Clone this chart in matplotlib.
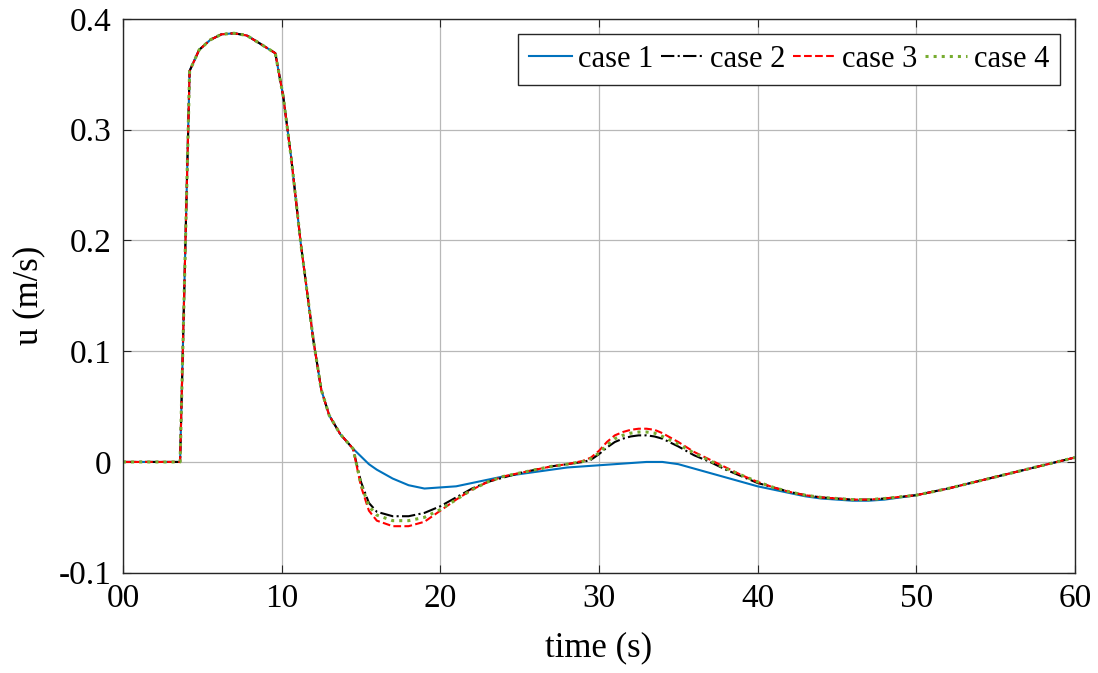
import matplotlib
matplotlib.use('Agg')
import matplotlib.pyplot as plt
import numpy as np

plt.rcParams['font.family'] = ['Liberation Serif', 'DejaVu Serif']

# shared rise / fall part (all four cases coincide here)
t_common = [0, 3.6, 4.2, 4.8, 5.5, 6.2, 7.0, 7.8, 8.6, 9.6, 10.1, 10.6, 11.2,
            12.0, 12.5, 13.0, 13.7, 14.5]
u_common = [0, 0, 0.353, 0.372, 0.381, 0.386, 0.387, 0.385, 0.378, 0.369,
            0.330, 0.275, 0.198, 0.110, 0.065, 0.042, 0.025, 0.012]

# after t = 14.5 s the cases split
t_tail = [15.0, 15.5, 16, 17, 18, 19, 20, 21, 22, 23, 24, 25, 26, 27, 28, 29,
          29.5, 30, 30.5, 31, 31.5, 32, 32.5, 33, 33.5, 34, 35, 36, 37, 38, 39,
          40, 41, 42, 43, 44, 45, 46, 47, 48, 50, 52, 54, 56, 58, 60]

case1 = [0.005, -0.002, -0.007, -0.015, -0.021, -0.024, -0.023, -0.022, -0.019,
         -0.016, -0.013, -0.011, -0.009, -0.007, -0.005, -0.004, -0.0035, -0.003,
         -0.0025, -0.002, -0.0015, -0.001, -0.0005, 0.0, 0.0, 0.0, -0.002, -0.006,
         -0.010, -0.014, -0.018, -0.022, -0.025, -0.028, -0.031, -0.033, -0.034,
         -0.035, -0.035, -0.034, -0.030, -0.024, -0.017, -0.010, -0.003, 0.004]

case2 = [-0.018, -0.037, -0.045, -0.049, -0.049, -0.046, -0.040, -0.032, -0.024,
         -0.018, -0.014, -0.010, -0.007, -0.004, -0.002, 0.0, 0.002, 0.007, 0.013,
         0.018, 0.021, 0.023, 0.024, 0.024, 0.023, 0.021, 0.014, 0.006, 0.000,
         -0.007, -0.013, -0.019, -0.023, -0.027, -0.030, -0.032, -0.033, -0.034,
         -0.034, -0.033, -0.030, -0.024, -0.017, -0.010, -0.003, 0.004]

case3 = [-0.022, -0.044, -0.053, -0.058, -0.058, -0.054, -0.044, -0.034, -0.025,
         -0.018, -0.013, -0.010, -0.007, -0.004, -0.002, 0.001, 0.004, 0.010, 0.018,
         0.024, 0.027, 0.029, 0.030, 0.030, 0.029, 0.026, 0.018, 0.009, 0.002,
         -0.005, -0.012, -0.018, -0.023, -0.027, -0.030, -0.032, -0.033, -0.034,
         -0.034, -0.033, -0.030, -0.024, -0.017, -0.010, -0.003, 0.004]

case4 = [-0.020, -0.040, -0.048, -0.053, -0.053, -0.050, -0.043, -0.034, -0.025,
         -0.018, -0.013, -0.010, -0.007, -0.004, -0.002, 0.0005, 0.003, 0.008, 0.015,
         0.021, 0.024, 0.026, 0.027, 0.027, 0.026, 0.023, 0.016, 0.008, 0.001,
         -0.006, -0.012, -0.018, -0.023, -0.027, -0.030, -0.032, -0.033, -0.034,
         -0.034, -0.033, -0.030, -0.024, -0.017, -0.010, -0.003, 0.004]

labels = ['case 1', 'case 2', 'case 3', 'case 4']
xticks = [0, 10, 20, 30, 40, 50, 60]
xticklabels = ['00', '10', '20', '30', '40', '50', '60']
yticks = [-0.1, 0, 0.1, 0.2, 0.3, 0.4]
yticklabels = ['-0.1', '0', '0.1', '0.2', '0.3', '0.4']

fig = plt.figure(figsize=(10.98, 6.73), dpi=100)
ax = fig.add_axes([0.112, 0.149, 0.867, 0.823])

t = np.array(t_common + t_tail)
styles = [dict(color='#0072BD', ls='-', lw=1.5),
          dict(color='black', ls='-.', lw=1.5),
          dict(color='#FF0000', ls='--', lw=1.5),
          dict(color='#77AC30', ls=':', lw=2.2)]
for data, lab, st in zip([case1, case2, case3, case4], labels, styles):
    ax.plot(t, u_common + data, label=lab, **st)

ax.set_xlim(0, 60)
ax.set_ylim(-0.1, 0.4)
ax.set_xticks(xticks)
ax.set_xticklabels(xticklabels)
ax.set_yticks(yticks)
ax.set_yticklabels(yticklabels)
ax.tick_params(direction='in', top=True, right=True, labelsize=24, length=6,
               color='#262626', pad=8)
ax.grid(True, color='#b8b8b8', lw=0.9)
for s in ax.spines.values():
    s.set_color('#262626')
    s.set_linewidth(1.0)

ax.set_xlabel('time (s)', fontsize=25, labelpad=12)
ax.set_ylabel('u (m/s)', fontsize=25, labelpad=10)

leg = ax.legend(loc='upper right', ncol=4, fontsize=22, frameon=True,
                fancybox=False, edgecolor='#262626', framealpha=1,
                handlelength=1.4, handletextpad=0.2, columnspacing=0.25,
                borderpad=0.35, borderaxespad=0.5)
leg.get_frame().set_linewidth(1.0)

fig.savefig('out.png', dpi=100)
